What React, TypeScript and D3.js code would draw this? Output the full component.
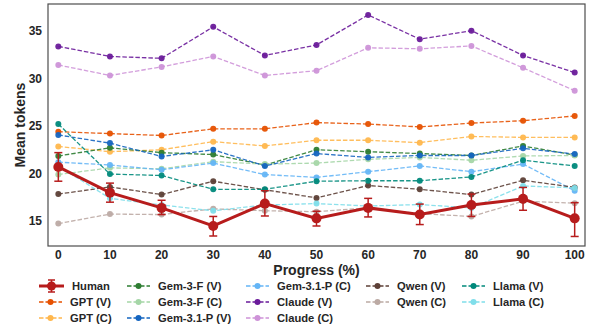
import * as d3 from 'd3';

const progress = [0, 10, 20, 30, 40, 50, 60, 70, 80, 90, 100];

const humanMean = [20.7, 18.0, 16.4, 14.5, 16.85, 15.3, 16.4, 15.7, 16.7, 17.35, 15.3];
const humanLow = [19.2, 17.0, 15.7, 13.45, 15.55, 14.5, 15.45, 14.65, 15.5, 16.15, 13.4];
const humanHigh = [22.2, 19.0, 17.2, 15.5, 18.2, 16.05, 17.4, 16.8, 17.85, 18.55, 16.95];

const gptV = [24.4, 24.2, 24.0, 24.7, 24.7, 25.35, 25.2, 24.9, 25.3, 25.55, 26.05];
const gptC = [22.85, 22.3, 22.5, 23.35, 22.9, 23.5, 23.5, 23.25, 23.9, 23.8, 23.8];
const gem3fV = [21.85, 22.7, 22.2, 22.0, 20.9, 22.5, 22.3, 22.1, 21.9, 22.9, 21.95];
const gem3fC = [19.9, 20.6, 20.5, 21.25, 21.0, 21.1, 21.5, 21.7, 21.4, 21.85, 21.9];
const gem31pV = [24.05, 23.2, 21.8, 22.5, 20.8, 22.1, 21.7, 21.9, 21.9, 22.65, 22.05];
const gem31pC = [21.2, 20.9, 20.4, 21.1, 19.9, 19.6, 20.2, 20.8, 20.2, 21.0, 18.2];
const claudeV = [33.35, 32.3, 32.1, 35.4, 32.4, 33.5, 36.65, 34.1, 35.0, 32.4, 30.6];
const claudeC = [31.4, 30.3, 31.2, 32.3, 30.3, 30.8, 33.2, 33.1, 33.4, 31.1, 28.7];
const qwenV = [17.85, 18.6, 17.8, 19.2, 18.3, 17.45, 18.75, 18.35, 17.8, 19.3, 18.55];
const qwenC = [14.75, 15.75, 15.7, 16.3, 16.1, 16.0, 16.4, 15.8, 15.5, 17.1, 16.9];
const llamaV = [25.2, 19.95, 19.8, 18.35, 18.35, 19.2, 19.25, 19.25, 19.65, 21.4, 20.8];
const llamaC = [20.8, 17.4, 16.7, 16.1, 16.7, 16.85, 16.6, 16.75, 16.4, 18.7, 18.5];

const series = [
  { name: 'GPT (V)', color: '#e65100', values: gptV },
  { name: 'GPT (C)', color: '#ffb74d', values: gptC },
  { name: 'Gem-3-F (V)', color: '#2e7d32', values: gem3fV },
  { name: 'Gem-3-F (C)', color: '#a5d6a7', values: gem3fC },
  { name: 'Gem-3.1-P (V)', color: '#1565c0', values: gem31pV },
  { name: 'Gem-3.1-P (C)', color: '#64b5f6', values: gem31pC },
  { name: 'Claude (V)', color: '#6a1b9a', values: claudeV },
  { name: 'Claude (C)', color: '#ce93d8', values: claudeC },
  { name: 'Qwen (V)', color: '#5d4037', values: qwenV },
  { name: 'Qwen (C)', color: '#bcaaa4', values: qwenC },
  { name: 'Llama (V)', color: '#00897b', values: llamaV },
  { name: 'Llama (C)', color: '#80deea', values: llamaC },
];

const HUMAN_COLOR = '#b71c1c';
const yTicks = [15, 20, 25, 30, 35];

const W = 591;
const H = 327;
const FONT = 'Liberation Sans, Arial, sans-serif';

export default function App() {
  const m = { left: 48, right: 585, top: 4, bottom: 246 };
  const x = d3.scaleLinear().domain([-2, 102]).range([m.left, m.right]);
  const y = d3.scaleLinear().domain([12.4, 37.8]).range([m.bottom, m.top]);

  const line = d3
    .line<number>()
    .x((_, i) => x(progress[i]))
    .y((d) => y(d));

  // legend entries, filled column by column like matplotlib ncol=5
  const legendItems = [{ name: 'Human', color: HUMAN_COLOR, human: true }, ...series.map((s) => ({ ...s, human: false }))];
  const colX = [39, 127, 246, 366, 462];
  const rowY = [286, 302, 318];
  const colOf = (i: number) => (i < 9 ? Math.floor(i / 3) : 3 + Math.floor((i - 9) / 2));
  const rowOf = (i: number) => (i < 9 ? i % 3 : (i - 9) % 2);

  return (
    <svg width={W} height={H} style={{ position: 'absolute', left: 0, top: 0 }} fontFamily={FONT}>
      <rect width={W} height={H} fill="#fff" />

      {/* model lines */}
      {series.map((s) => (
        <g key={s.name}>
          <path
            d={line(s.values) ?? ''}
            fill="none"
            stroke={s.color}
            strokeWidth={1.3}
            strokeDasharray="4.5,2"
            opacity={0.9}
          />
          {s.values.map((v, i) => (
            <circle key={i} cx={x(progress[i])} cy={y(v)} r={3} fill={s.color} opacity={0.95} />
          ))}
        </g>
      ))}

      {/* human with error bars */}
      <g>
        {humanMean.map((_, i) => {
          const cx = x(progress[i]);
          return (
            <g key={i} stroke={HUMAN_COLOR} strokeWidth={1.5}>
              <line x1={cx} x2={cx} y1={y(humanLow[i])} y2={y(humanHigh[i])} />
              <line x1={cx - 4} x2={cx + 4} y1={y(humanLow[i])} y2={y(humanLow[i])} />
              <line x1={cx - 4} x2={cx + 4} y1={y(humanHigh[i])} y2={y(humanHigh[i])} />
            </g>
          );
        })}
        <path d={line(humanMean) ?? ''} fill="none" stroke={HUMAN_COLOR} strokeWidth={3} />
        {humanMean.map((v, i) => (
          <circle key={i} cx={x(progress[i])} cy={y(v)} r={5} fill={HUMAN_COLOR} />
        ))}
      </g>

      {/* frame */}
      <rect
        x={m.left}
        y={m.top}
        width={m.right - m.left}
        height={m.bottom - m.top}
        fill="none"
        stroke="#4d4d4d"
        strokeWidth={1.2}
      />

      {/* y ticks */}
      {yTicks.map((t) => (
        <text key={t} x={m.left - 6} y={y(t)} dy="0.35em" textAnchor="end" fontSize={12} fontWeight="bold" fill="#262626">
          {t}
        </text>
      ))}
      {/* x ticks */}
      {progress.map((t) => (
        <text key={t} x={x(t)} y={m.bottom + 13} textAnchor="middle" fontSize={12} fontWeight="bold" fill="#262626">
          {t}
        </text>
      ))}

      <text x={x(50)} y={275} textAnchor="middle" fontSize={14} fontWeight="bold" fill="#262626">
        Progress (%)
      </text>
      <text
        transform={`translate(20,${(m.top + m.bottom) / 2}) rotate(-90)`}
        textAnchor="middle"
        dy="0.35em"
        fontSize={14}
        fontWeight="bold"
        fill="#262626"
      >
        Mean tokens
      </text>

      {/* legend */}
      {legendItems.map((it, i) => {
        const lx = colX[colOf(i)];
        const ly = rowY[rowOf(i)];
        const hw = it.human ? 25 : 23;
        return (
          <g key={it.name}>
            {it.human ? (
              <g stroke={it.color} strokeWidth={1.5}>
                <line x1={lx} x2={lx + hw} y1={ly} y2={ly} strokeWidth={3} />
                <line x1={lx + hw / 2} x2={lx + hw / 2} y1={ly - 6} y2={ly + 6} />
                <line x1={lx + hw / 2 - 3.5} x2={lx + hw / 2 + 3.5} y1={ly - 6} y2={ly - 6} />
                <line x1={lx + hw / 2 - 3.5} x2={lx + hw / 2 + 3.5} y1={ly + 6} y2={ly + 6} />
                <circle cx={lx + hw / 2} cy={ly} r={4.5} fill={it.color} stroke="none" />
              </g>
            ) : (
              <g>
                <line x1={lx} x2={lx + hw} y1={ly} y2={ly} stroke={it.color} strokeWidth={1.3} strokeDasharray="4.5,2" />
                <circle cx={lx + hw / 2} cy={ly} r={3} fill={it.color} />
              </g>
            )}
            <text x={lx + (it.human ? 33 : 31)} y={ly} dy="0.35em" fontSize={11.2} fontWeight="bold" fill="#262626">
              {it.name}
            </text>
          </g>
        );
      })}
    </svg>
  );
}
